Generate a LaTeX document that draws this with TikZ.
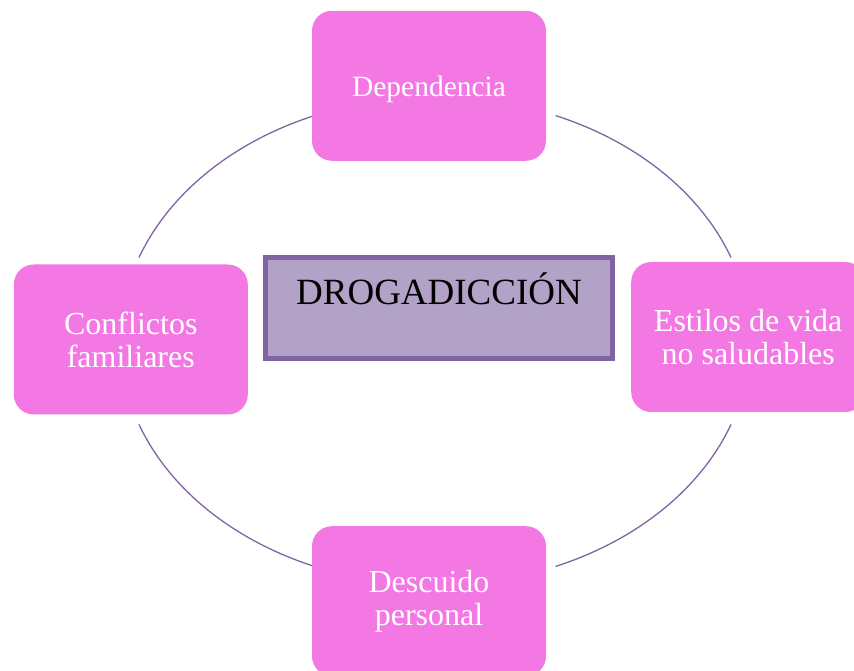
\documentclass[tikz,border=0pt]{standalone}
\usepackage{fontspec}
\setmainfont{Liberation Serif}
\usetikzlibrary{positioning}
\definecolor{causepink}{HTML}{F378E3}
\definecolor{corepurple}{HTML}{B3A2C7}
\definecolor{ringpurple}{HTML}{8064A2}

\begin{document}
\begin{tikzpicture}[x=1pt,y=1pt,
    cause/.style={fill=causepink,rounded corners=20pt,minimum width=234pt,minimum height=150pt,inner sep=0pt,text=white,align=center,font=\fontsize{29.5}{32}\selectfont},
    twoline/.style={font=\fontsize{32}{33}\selectfont},
    core/.style={draw=ringpurple,line width=5pt,fill=corepurple,minimum width=347pt,minimum height=101pt,inner sep=0pt,text height=25pt,text depth=31pt,font=\fontsize{37}{40}\selectfont},
    ring/.style={draw=ringpurple,line width=1.3pt}] %
    \clip (0,0) rectangle (854,670);
    \coordinate (ctr) at (435,329) ; %
    \foreach \a/\b in {67.5/20, -20/-67.5, -112.5/-160, 160/112.5}
      \draw[ring] (ctr) ++(\a:315pt and 244pt) arc[start angle=\a, end angle=\b, x radius=315pt, y radius=244pt];
    \node[core] (drug) at (439,362) {DROGADICCIÓN} ; %
    \node[cause, above=94pt of drug, xshift=-10pt, text depth=0pt] (dep) {Dependencia} ; %
    \node[cause, twoline, left=15pt of drug, yshift=-31.5pt] (fam) {Conflictos\\familiares} ; %
    \node[cause, twoline, right=16pt of drug, yshift=-29pt] (vida) {Estilos de vida\\no saludables} ; %
    \node[cause, twoline, below=165pt of drug, xshift=-10pt] (desc) {Descuido\\personal} ; %
  \end{tikzpicture}
\end{document}
